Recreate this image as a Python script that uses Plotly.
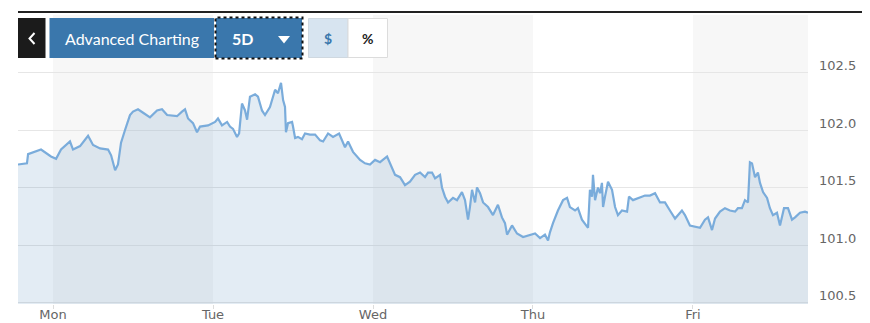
import plotly.graph_objects as go

# ---- data (time in trading days from Monday 00:00, price in $) ----
t_days = [
    -0.219, -0.163, -0.156, -0.113, -0.075, -0.013, 0.019, 0.050, 0.106, 0.125,
    0.169, 0.219, 0.250, 0.294, 0.344, 0.363, 0.388, 0.406, 0.425, 0.450,
    0.481, 0.500, 0.531, 0.563, 0.606, 0.650, 0.681, 0.713, 0.775, 0.806,
    0.825, 0.844, 0.875, 0.900, 0.919, 0.969, 1.013, 1.031, 1.056, 1.088,
    1.106, 1.125, 1.150, 1.163, 1.181, 1.200, 1.213, 1.231, 1.263, 1.281,
    1.306, 1.325, 1.356, 1.388, 1.406, 1.425, 1.438, 1.450, 1.456, 1.469,
    1.494, 1.500, 1.513, 1.531, 1.556, 1.575, 1.606, 1.638, 1.669, 1.688,
    1.719, 1.750, 1.788, 1.825, 1.844, 1.875, 1.919, 1.950, 1.981, 2.013,
    2.044, 2.088, 2.106, 2.138, 2.169, 2.200, 2.231, 2.263, 2.294, 2.325,
    2.344, 2.369, 2.388, 2.419, 2.431, 2.450, 2.469, 2.500, 2.525, 2.556,
    2.575, 2.594, 2.606, 2.619, 2.638, 2.650, 2.669, 2.688, 2.719, 2.750,
    2.781, 2.806, 2.825, 2.838, 2.869, 2.900, 2.938, 2.981, 3.013, 3.044,
    3.075, 3.094, 3.106, 3.125, 3.156, 3.188, 3.213, 3.231, 3.263, 3.281,
    3.306, 3.338, 3.344, 3.356, 3.369, 3.375, 3.388, 3.406, 3.419, 3.431,
    3.438, 3.450, 3.469, 3.494, 3.513, 3.531, 3.556, 3.588, 3.600, 3.625,
    3.669, 3.700, 3.731, 3.763, 3.794, 3.825, 3.856, 3.888, 3.931, 3.950,
    3.981, 4.013, 4.044, 4.075, 4.094, 4.119, 4.138, 4.169, 4.200, 4.231,
    4.263, 4.281, 4.306, 4.325, 4.344, 4.356, 4.369, 4.388, 4.406, 4.419,
    4.438, 4.463, 4.481, 4.500, 4.525, 4.544, 4.569, 4.594, 4.619, 4.638,
    4.669, 4.700, 4.719,
]
price = [
    101.70, 101.71, 101.79, 101.81, 101.83, 101.77, 101.75, 101.83, 101.90, 101.83,
    101.86, 101.95, 101.87, 101.84, 101.83, 101.78, 101.65, 101.70, 101.89, 102.00,
    102.13, 102.16, 102.18, 102.15, 102.11, 102.17, 102.18, 102.13, 102.12, 102.16,
    102.18, 102.10, 102.06, 101.98, 102.03, 102.04, 102.07, 102.10, 102.04, 102.07,
    102.03, 102.01, 101.94, 101.97, 102.23, 102.17, 102.09, 102.29, 102.31, 102.29,
    102.17, 102.13, 102.20, 102.35, 102.32, 102.41, 102.26, 102.20, 101.98, 102.06,
    102.07, 102.03, 101.93, 101.94, 101.92, 101.97, 101.96, 101.96, 101.91, 101.90,
    101.97, 101.94, 101.97, 101.85, 101.90, 101.81, 101.74, 101.71, 101.70, 101.74,
    101.72, 101.77, 101.71, 101.61, 101.59, 101.52, 101.55, 101.61, 101.63, 101.59,
    101.63, 101.63, 101.58, 101.61, 101.50, 101.42, 101.37, 101.41, 101.39, 101.46,
    101.39, 101.22, 101.33, 101.48, 101.37, 101.50, 101.45, 101.37, 101.33, 101.26,
    101.35, 101.24, 101.19, 101.09, 101.17, 101.10, 101.07, 101.09, 101.10, 101.06,
    101.09, 101.04, 101.11, 101.19, 101.30, 101.39, 101.41, 101.33, 101.30, 101.32,
    101.22, 101.16, 101.15, 101.48, 101.42, 101.61, 101.39, 101.50, 101.45, 101.54,
    101.33, 101.42, 101.55, 101.48, 101.33, 101.26, 101.30, 101.29, 101.42, 101.39,
    101.41, 101.43, 101.43, 101.45, 101.37, 101.37, 101.30, 101.23, 101.30, 101.26,
    101.17, 101.16, 101.15, 101.22, 101.24, 101.13, 101.23, 101.29, 101.32, 101.30,
    101.29, 101.32, 101.32, 101.39, 101.37, 101.72, 101.71, 101.59, 101.63, 101.54,
    101.46, 101.41, 101.32, 101.26, 101.28, 101.17, 101.32, 101.32, 101.22, 101.24,
    101.28, 101.29, 101.28,
]
day_names = ["Mon", "Tue", "Wed", "Thu", "Fri"]
day_ticks = [0, 1, 2, 3, 4]
price_ticks = [100.5, 101.0, 101.5, 102.0, 102.5]
shaded_days = [(0, 1), (2, 3), (4, 4.719)]
x_range = [-0.219, 4.719]
y_range = [100.487, 103.0]

# ---- geometry helpers (pixel -> paper) ----
W, H = 870, 323
ML, MR, MT, MB = 18, 62, 15, 19
PW, PH = W - ML - MR, H - MT - MB


def px(x):
    return (x - ML) / PW


def py(y):
    return (H - MB - y) / PH


fig = go.Figure()
fig.add_trace(go.Scatter(
    x=t_days, y=price, mode="lines",
    line=dict(color="#7aacdb", width=2.2),
    fill="tozeroy", fillcolor="rgba(70,130,180,0.15)",
    hoverinfo="skip",
))

shapes = []
for a, b in shaded_days:
    shapes.append(dict(type="rect", xref="x", yref="paper", x0=a, x1=b, y0=0, y1=1,
                       fillcolor="#f7f7f7", line=dict(width=0), layer="below"))

# top rule
shapes.append(dict(type="line", xref="paper", yref="paper", x0=px(18), x1=px(862),
                   y0=py(12), y1=py(12), line=dict(color="#222222", width=2)))


def rect(x0, x1, y0, y1, fill, line_color=None, line_width=0, dash=None):
    ln = dict(width=line_width, color=line_color or fill)
    if dash:
        ln["dash"] = dash
    return dict(type="rect", xref="paper", yref="paper", x0=px(x0), x1=px(x1),
                y0=py(y1), y1=py(y0), fillcolor=fill, line=ln, layer="above")


blue = "#3a77ac"
shapes += [
    rect(18, 45.5, 18, 58, "#1b1b1b"),
    rect(49.5, 214, 18, 58, blue),
    rect(216, 302, 18, 58, blue),
    rect(215.5, 302.5, 17.5, 58.5, "rgba(0,0,0,0)", "#111111", 2, "dot"),
    rect(308.5, 348, 18.5, 57.5, "#d7e4f0", "#cfd8e0", 1),
    rect(348, 387.5, 18.5, 57.5, "#ffffff", "#dcdcdc", 1),
    dict(type="path", xref="paper", yref="paper", layer="above",
         path=f"M {px(278)},{py(36)} L {px(290)},{py(36)} L {px(284)},{py(43.5)} Z",
         fillcolor="#ffffff", line=dict(width=0)),
    # back chevron
    dict(type="path", xref="paper", yref="paper", layer="above",
         path=f"M {px(34.5)},{py(33)} L {px(29.5)},{py(38.5)} L {px(34.5)},{py(44)}",
         line=dict(color="#ffffff", width=2)),
]

ann = [
    dict(text="Advanced Charting", x=px(131.5), y=py(38.5), font=dict(family="Lato", size=16, color="#ffffff")),
    dict(text="<b>5D</b>", x=px(242.5), y=py(38.5), font=dict(family="Lato", size=16, color="#ffffff")),
    dict(text="<b>$</b>", x=px(328.3), y=py(38.5), font=dict(family="Lato", size=14, color="#3a77ac")),
    dict(text="<b>%</b>", x=px(367.7), y=py(38.5), font=dict(family="Lato", size=14, color="#222222")),
]
for a in ann:
    a.update(xref="paper", yref="paper", xanchor="center", yanchor="middle", showarrow=False)

fig.update_layout(
    width=W, height=H,
    margin=dict(l=ML, r=MR, t=MT, b=MB, autoexpand=False),
    paper_bgcolor="#ffffff", plot_bgcolor="#ffffff",
    showlegend=False, hovermode=False,
    shapes=shapes, annotations=ann,
    xaxis=dict(range=x_range, tickvals=day_ticks, ticktext=day_names,
               showgrid=False, zeroline=False, showline=False, automargin=False,
               ticks="outside", ticklen=4, tickcolor="#dddddd",
               ticklabelstandoff=-6,
               tickfont=dict(family="DejaVu Sans", size=13, color="#666666")),
    yaxis=dict(range=y_range, side="right", tickvals=price_ticks, tickformat=".1f",
               showgrid=True, gridcolor="#e6e6e6", gridwidth=1, zeroline=False,
               showline=False, ticks="", ticklabelshift=-7, ticklabelstandoff=10,
               automargin=False,
               tickfont=dict(family="DejaVu Sans", size=13, color="#666666")),
)

fig.write_html("out.html")
